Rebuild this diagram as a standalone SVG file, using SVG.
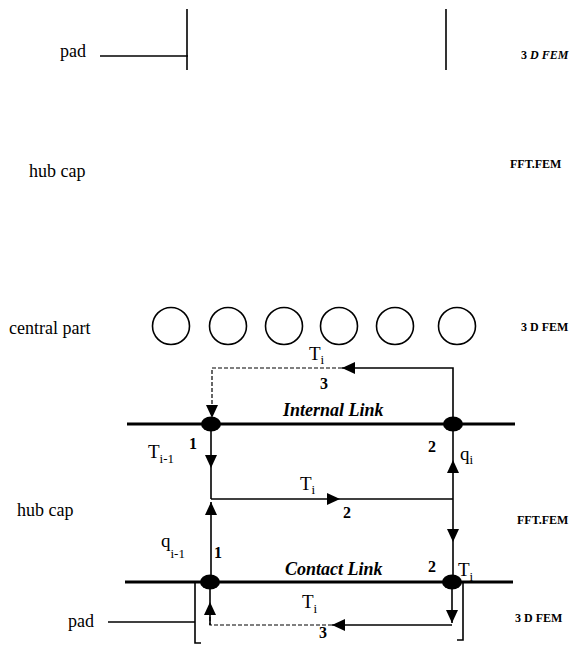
<svg xmlns="http://www.w3.org/2000/svg" width="576" height="646" viewBox="0 0 576 646">
<style>
.lbl{font-family:"Liberation Serif",serif;font-size:18px;fill:#000}
.fem{font-family:"Liberation Serif",serif;font-size:12px;font-weight:bold;fill:#000}
.sym{font-family:"Liberation Serif",serif;font-size:19px;fill:#000}
.sub{font-size:13px}
.num{font-family:"Liberation Serif",serif;font-size:16px;font-weight:bold;fill:#000}
.link{font-family:"Liberation Serif",serif;font-size:18px;font-weight:bold;font-style:italic;fill:#000}
.thin{stroke:#000;stroke-width:1.6;fill:none}
.thick{stroke:#000;stroke-width:2.8;fill:none}
.dash{stroke:#000;stroke-width:1.2;fill:none;stroke-dasharray:4 2}
.arr{marker-end:url(#ah)}
</style>
<defs>
<marker id="ah" markerUnits="userSpaceOnUse" markerWidth="14" markerHeight="12" refX="13" refY="6" orient="auto">
<path d="M0,0 L13,6 L0,12 z" fill="#000"/>
</marker>
</defs>

<g id="top-pad">
<text class="lbl" x="60" y="57">pad</text>
<line class="thin" x1="100" y1="56" x2="188" y2="56"/>
<line class="thin" x1="187" y1="9" x2="187" y2="70"/>
<line class="thin" x1="446" y1="9" x2="446" y2="70" stroke-width="2.2"/>
<text class="fem" x="521" y="59">3 <tspan font-style="italic">D FEM</tspan></text>
</g>

<g id="top-hubcap">
<text class="lbl" x="29" y="177">hub cap</text>
<text class="fem" x="510" y="168">FFT.FEM</text>
</g>

<g id="central-part">
<text class="lbl" x="9" y="334">central part</text>
<g class="thin" stroke-width="1.4">
<circle cx="171" cy="326" r="18.5"/>
<circle cx="228" cy="326" r="18.5"/>
<circle cx="284" cy="326" r="18.5"/>
<circle cx="339" cy="326" r="18.5"/>
<circle cx="395" cy="326" r="18.5"/>
<circle cx="457" cy="326" r="18.5"/>
</g>
<text class="fem" x="521" y="331">3 D FEM</text>
</g>

<g id="internal-link">
<line class="thick" x1="127" y1="424" x2="515" y2="424"/>
<text class="link" x="283" y="416">Internal Link</text>
</g>

<g id="node-i1">
<ellipse cx="211" cy="424" rx="10" ry="7.5" fill="#000"/>
<text class="num" x="189" y="449">1</text>
</g>
<g id="node-i2">
<ellipse cx="453" cy="424" rx="10" ry="7.5" fill="#000"/>
<text class="num" x="428" y="452">2</text>
</g>

<g id="lower-hubcap">
<text class="lbl" x="17" y="516">hub cap</text>
<text class="fem" x="517" y="524">FFT.FEM</text>
</g>

<g id="contact-link">
<line class="thick" x1="125" y1="582" x2="513" y2="582"/>
<text class="link" x="285" y="575">Contact Link</text>
</g>

<g id="node-c1">
<ellipse cx="210" cy="582" rx="10" ry="7.5" fill="#000"/>
<text class="num" x="214" y="558">1</text>
</g>
<g id="node-c2">
<ellipse cx="452" cy="582" rx="10" ry="7.5" fill="#000"/>
<text class="num" x="428" y="572">2</text>
</g>

<g id="lower-pad">
<text class="lbl" x="68" y="627">pad</text>
<line class="thin" x1="108" y1="622" x2="195" y2="622"/>
<polyline class="thin" points="195,582 195,643 201,643"/>
<polyline class="thin" points="463,582 463,640 457,640"/>
<text class="fem" x="515" y="622">3 D FEM</text>
</g>

<g id="connectors">
<path class="thin arr" d="M453,424 V368 H342"/>
<path class="dash arr" d="M342,368 H212 V418"/>
<path class="thin arr" d="M211,424 V468"/>
<path class="thin" d="M211,468 V499"/>
<path class="thin arr" d="M211,582 V502"/>
<path class="thin arr" d="M211,499 H340"/>
<path class="thin" d="M340,499 H453"/>
<path class="thin arr" d="M453,499 V460"/>
<path class="thin" d="M453,460 V424"/>
<path class="thin arr" d="M453,499 V542"/>
<path class="thin" d="M453,542 V582"/>
<path class="thin arr" d="M452,582 V623"/>
<path class="thin arr" d="M452,625 H332"/>
<path class="dash" d="M332,625 H210 V612"/>
<path class="thin arr" d="M210,625 V602"/>
<path class="thin" d="M210,602 V582"/>
</g>

<g id="labels">
<text class="sym" x="309" y="360">T<tspan class="sub" dy="4">i</tspan></text>
<text class="num" x="320" y="389">3</text>
<text class="sym" x="148" y="458">T<tspan class="sub" dy="5">i-1</tspan></text>
<text class="sym" x="460" y="460">q<tspan class="sub" dy="4">i</tspan></text>
<text class="sym" x="300" y="490">T<tspan class="sub" dy="4">i</tspan></text>
<text class="num" x="343" y="518">2</text>
<text class="sym" x="161" y="547">q<tspan class="sub" dy="11">i-1</tspan></text>
<text class="sym" x="458" y="576">T<tspan class="sub" dy="5">i</tspan></text>
<text class="sym" x="302" y="608">T<tspan class="sub" dy="5">i</tspan></text>
<text class="num" x="319" y="638">3</text>
</g>
</svg>
